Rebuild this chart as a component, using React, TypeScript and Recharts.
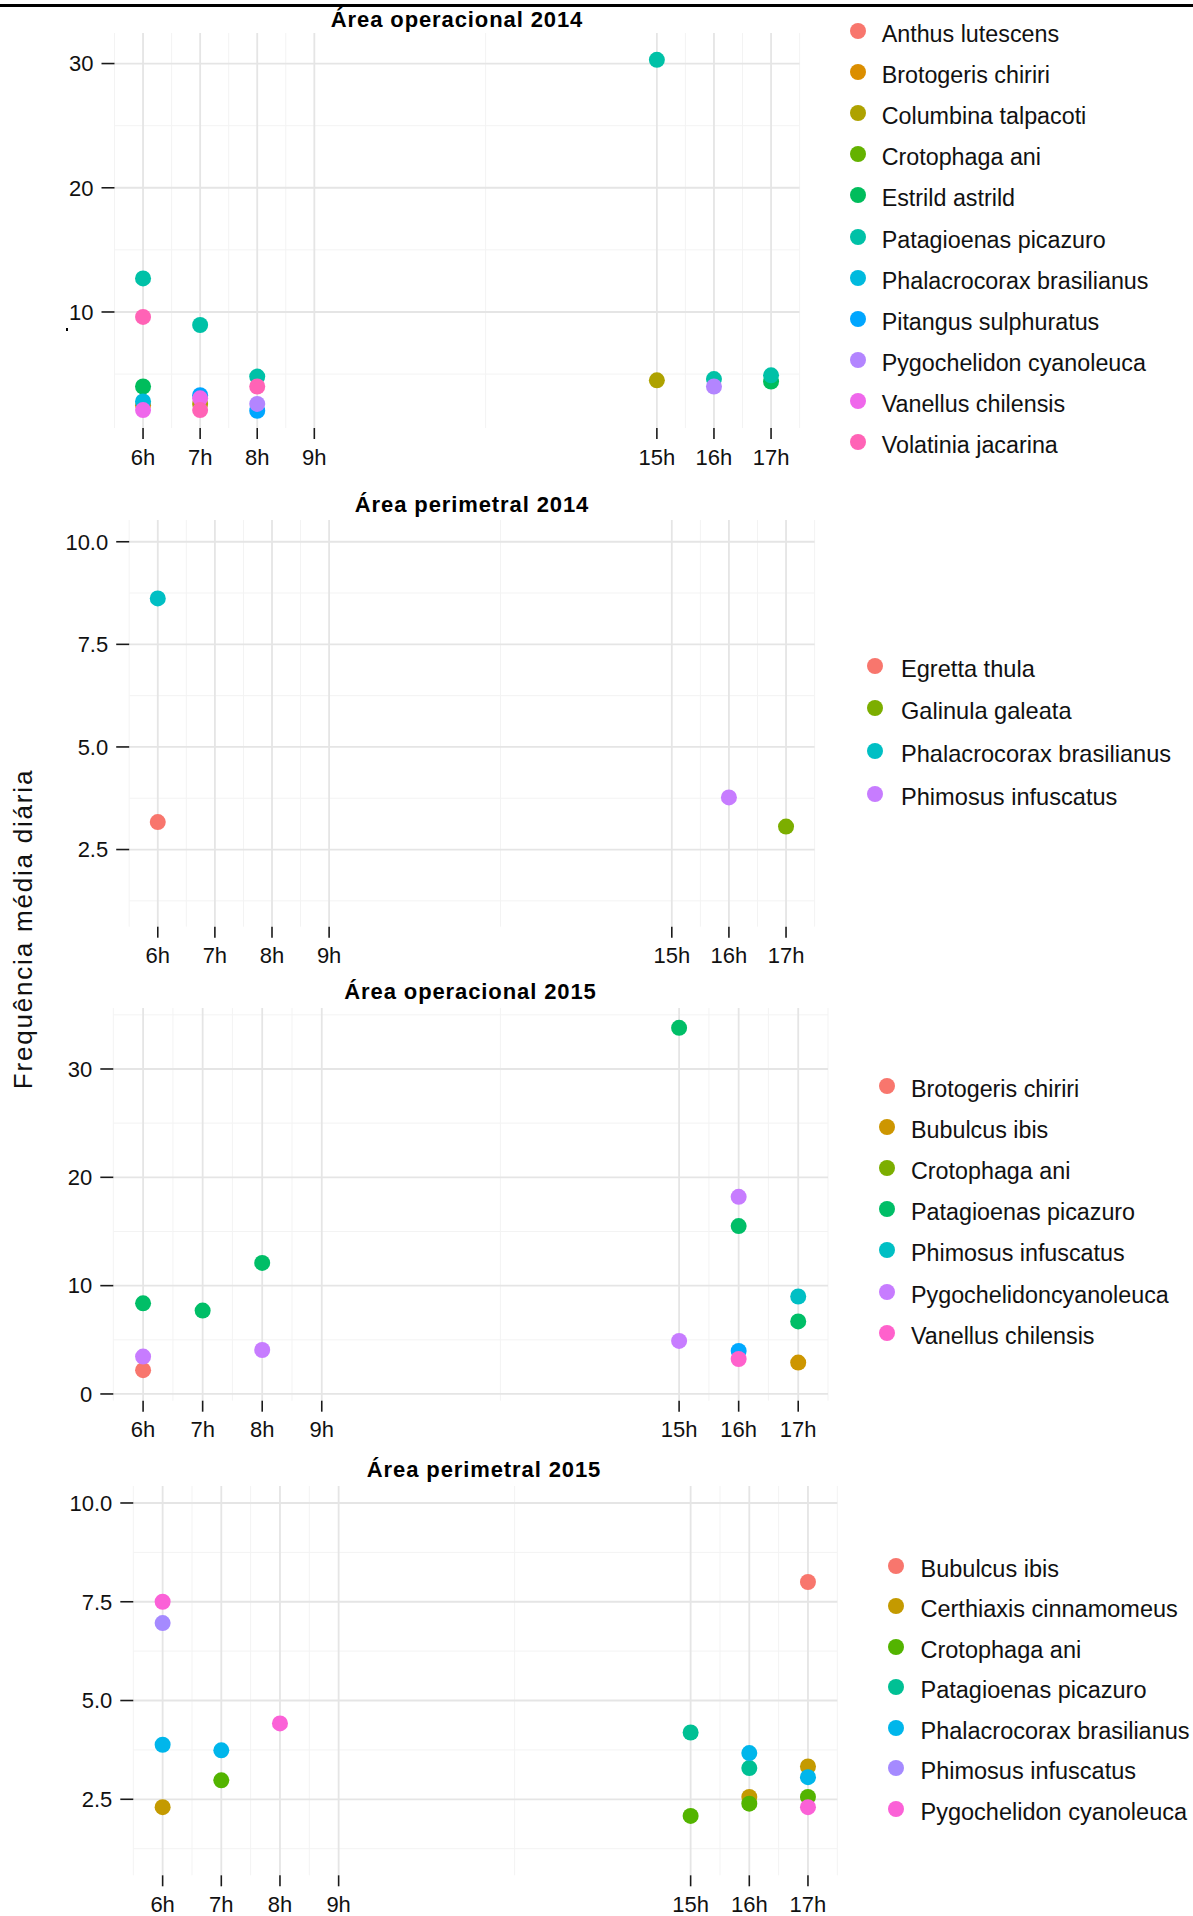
import React from "react";
import { ScatterChart, Scatter, XAxis, YAxis, CartesianGrid } from "recharts";

const FONT = '"Liberation Sans", Arial, sans-serif';
const W = 1193;

const hours = [6, 7, 8, 9, 15, 16, 17];
const minorHours = [5.5, 6.5, 7.5, 8.5, 12, 15.5, 16.5, 17.5];

// Área operacional 2014  — obs: [species index, hour, mean daily frequency]
const op14Species = [
  "Anthus lutescens",
  "Brotogeris chiriri",
  "Columbina talpacoti",
  "Crotophaga ani",
  "Estrild astrild",
  "Patagioenas picazuro",
  "Phalacrocorax brasilianus",
  "Pitangus sulphuratus",
  "Pygochelidon cyanoleuca",
  "Vanellus chilensis",
  "Volatinia jacarina",
];
const op14Colors = [
  "#F8766D", "#DB8E00", "#AEA200", "#64B200", "#00BD5C", "#00C1A7",
  "#00BADE", "#00A6FF", "#B385FF", "#EF67EB", "#FF63B6",
];
const op14Obs = [
  [1, 6, 2.5], [4, 6, 4.0], [5, 6, 12.7], [6, 6, 2.8], [9, 6, 2.1], [10, 6, 9.6],
  [2, 7, 2.6], [5, 7, 8.95], [7, 7, 3.3], [9, 7, 3.05], [10, 7, 2.1],
  [5, 8, 4.8], [7, 8, 2.05], [8, 8, 2.6], [10, 8, 4.0],
  [2, 15, 4.5], [5, 15, 30.3],
  [5, 16, 4.6], [8, 16, 4.0],
  [4, 17, 4.4], [5, 17, 4.9],
];

// Área perimetral 2014
const per14Species = [
  "Egretta thula",
  "Galinula galeata",
  "Phalacrocorax brasilianus",
  "Phimosus infuscatus",
];
const per14Colors = ["#F8766D", "#7CAE00", "#00BFC4", "#C77CFF"];
const per14Obs = [
  [0, 6, 3.17], [2, 6, 8.62], [3, 16, 3.77], [1, 17, 3.06],
];

// Área operacional 2015 (index 5 is not listed in the legend)
const op15Species = [
  "Brotogeris chiriri",
  "Bubulcus ibis",
  "Crotophaga ani",
  "Patagioenas picazuro",
  "Phimosus infuscatus",
  "Pygochelidon cyanoleuca",
  "Pygochelidoncyanoleuca",
  "Vanellus chilensis",
];
const op15Colors = [
  "#F8766D", "#CD9600", "#7CAE00", "#00BE67", "#00BFC4", "#00A9FF", "#C77CFF", "#FF61CC",
];
const op15Hidden = [5];
const op15Obs = [
  [0, 6, 2.2], [3, 6, 8.37], [6, 6, 3.45],
  [3, 7, 7.7],
  [3, 8, 12.1], [6, 8, 4.06],
  [3, 15, 33.8], [6, 15, 4.9],
  [3, 16, 15.5], [5, 16, 3.97], [6, 16, 18.2], [7, 16, 3.23],
  [1, 17, 2.9], [3, 17, 6.7], [4, 17, 9.0],
];

// Área perimetral 2015
const per15Species = [
  "Bubulcus ibis",
  "Certhiaxis cinnamomeus",
  "Crotophaga ani",
  "Patagioenas picazuro",
  "Phalacrocorax brasilianus",
  "Phimosus infuscatus",
  "Pygochelidon cyanoleuca",
];
const per15Colors = ["#F8766D", "#C49A00", "#53B400", "#00C094", "#00B6EB", "#A58AFF", "#FB61D7"];
const per15Obs = [
  [1, 6, 2.3], [4, 6, 3.88], [5, 6, 6.96], [6, 6, 7.5],
  [2, 7, 2.98], [4, 7, 3.74],
  [6, 8, 4.42],
  [2, 15, 2.08], [3, 15, 4.19],
  [1, 16, 2.56], [2, 16, 2.39], [3, 16, 3.29], [4, 16, 3.67],
  [0, 17, 8.0], [1, 17, 3.33], [2, 17, 2.56], [4, 17, 3.06], [6, 17, 2.3],
];

const intTicks = [10, 20, 30];
const intTicks0 = [0, 10, 20, 30];
const halfTicks = [2.5, 5, 7.5, 10];

type Box = { left: number; right: number; top: number; bottom: number };
type Leg = { dotX: number; textX: number; y0: number; gap: number; font: number };

type PanelProps = {
  title: string;
  titleX: number;
  titleY: number;
  species: string[];
  colors: string[];
  obs: number[][];
  hidden?: number[];
  yTicks: number[];
  yMinor: number[];
  yDomain: [number, number];
  decimals: number;
  box: Box;
  legend: Leg;
};

function Panel(p: PanelProps) {
  const chartTop = p.box.top - 6;
  const height = p.box.bottom - chartTop + 44;
  const series = p.species.map((name, i) => ({
    name,
    color: p.colors[i],
    hidden: (p.hidden || []).includes(i),
    data: p.obs.filter((o) => o[0] === i).map((o) => ({ hour: o[1], freq: o[2] })),
  }));
  const tickStyle = { fill: "#111", fontSize: 22, fontFamily: FONT };
  const shown = series.filter((s) => !s.hidden);
  return (
    <>
      <div style={{ position: "absolute", left: 0, top: chartTop, width: W, height }}>
        <ScatterChart
          width={W}
          height={height}
          margin={{ top: 6, right: W - p.box.right, bottom: 0, left: p.box.left - 70 }}
        >
          <CartesianGrid
            stroke="#F3F3F3"
            strokeWidth={1}
            horizontalValues={p.yMinor}
            verticalValues={minorHours}
            syncWithTicks
          />
          <CartesianGrid stroke="#E5E5E5" strokeWidth={1.8} syncWithTicks />
          <XAxis
            type="number"
            dataKey="hour"
            domain={[5.5, 17.5]}
            allowDataOverflow
            ticks={hours}
            interval={0}
            tickFormatter={(h: number) => `${h}h`}
            axisLine={false}
            tickLine={{ stroke: "#1a1a1a", strokeWidth: 1.6 }}
            tickSize={11}
            tickMargin={10}
            height={44}
            tick={tickStyle}
          />
          <YAxis
            type="number"
            dataKey="freq"
            domain={p.yDomain}
            allowDataOverflow
            ticks={p.yTicks}
            interval={0}
            tickFormatter={(v: number) => v.toFixed(p.decimals)}
            axisLine={false}
            tickLine={{ stroke: "#1a1a1a", strokeWidth: 1.6 }}
            tickSize={13}
            tickMargin={8}
            width={70}
            tick={tickStyle}
          />
          {series.map((s) => (
            <Scatter
              key={s.name}
              name={s.name}
              data={s.data}
              fill={s.color}
              isAnimationActive={false}
              legendType={s.hidden ? "none" : "circle"}
              shape={(props: any) => <circle cx={props.cx} cy={props.cy} r={8} fill={s.color} />}
            />
          ))}
        </ScatterChart>
      </div>
      <div
        style={{
          position: "absolute",
          left: p.titleX - 300,
          top: p.titleY - 15,
          width: 600,
          height: 30,
          lineHeight: "30px",
          textAlign: "center",
          fontFamily: FONT,
          fontWeight: "bold",
          fontSize: 22,
          letterSpacing: 0.9,
          color: "#000",
          whiteSpace: "nowrap",
        }}
      >
        {p.title}
      </div>
      {shown.map((s, i) => {
        const cy = p.legend.y0 + i * p.legend.gap;
        return (
          <React.Fragment key={s.name}>
            <div
              style={{
                position: "absolute",
                left: p.legend.dotX - 8,
                top: cy - 3 - 8,
                width: 16,
                height: 16,
                borderRadius: 8,
                background: s.color,
              }}
            />
            <div
              style={{
                position: "absolute",
                left: p.legend.textX,
                top: cy - 20,
                height: 40,
                lineHeight: "40px",
                fontFamily: FONT,
                fontSize: p.legend.font,
                color: "#111",
                whiteSpace: "nowrap",
              }}
            >
              {s.name}
            </div>
          </React.Fragment>
        );
      })}
    </>
  );
}

export default function App() {
  return (
    <div
      style={{
        position: "absolute",
        left: 0,
        top: 0,
        width: W,
        height: 1916,
        overflow: "hidden",
        background: "#fff",
      }}
    >
      <div style={{ position: "absolute", left: 0, top: 4, width: W, height: 3, background: "#000" }} />
      <Panel
        title="Área operacional 2014"
        titleX={457}
        titleY={20}
        species={op14Species}
        colors={op14Colors}
        obs={op14Obs}
        yTicks={intTicks}
        yMinor={[5, 15, 25]}
        yDomain={[0.66, 32.46]}
        decimals={0}
        box={{ left: 114.5, right: 799.6, top: 33, bottom: 428 }}
        legend={{ dotX: 857.7, textX: 881.7, y0: 33.7, gap: 41.17, font: 23.3 }}
      />
      <Panel
        title="Área perimetral 2014"
        titleX={472}
        titleY={505}
        species={per14Species}
        colors={per14Colors}
        obs={per14Obs}
        yTicks={halfTicks}
        yMinor={[1.25, 3.75, 6.25, 8.75]}
        yDomain={[0.62, 10.53]}
        decimals={1}
        box={{ left: 129.2, right: 814.6, top: 520, bottom: 926.7 }}
        legend={{ dotX: 875.3, textX: 901, y0: 668.7, gap: 42.77, font: 23.6 }}
      />
      <Panel
        title="Área operacional 2015"
        titleX={470.5}
        titleY={992}
        species={op15Species}
        colors={op15Colors}
        obs={op15Obs}
        hidden={op15Hidden}
        yTicks={intTicks0}
        yMinor={[5, 15, 25, 35]}
        yDomain={[-0.62, 35.63]}
        decimals={0}
        box={{ left: 113.3, right: 828, top: 1008, bottom: 1400.7 }}
        legend={{ dotX: 886.7, textX: 911, y0: 1089, gap: 41.1, font: 23.3 }}
      />
      <Panel
        title="Área perimetral 2015"
        titleX={484}
        titleY={1470}
        species={per15Species}
        colors={per15Colors}
        obs={per15Obs}
        yTicks={halfTicks}
        yMinor={[1.25, 3.75, 6.25, 8.75]}
        yDomain={[0.576, 10.43]}
        decimals={1}
        box={{ left: 133.3, right: 837.3, top: 1485.7, bottom: 1875 }}
        legend={{ dotX: 896, textX: 920.5, y0: 1568.5, gap: 40.53, font: 23.5 }}
      />
      <svg
        width={W}
        height={1916}
        style={{ position: "absolute", left: 0, top: 0, pointerEvents: "none" }}
      >
        <text
          transform="translate(32,929) rotate(-90)"
          textAnchor="middle"
          fontFamily={FONT}
          fontSize={26}
          letterSpacing={1.8}
          fill="#111"
        >
          Frequência média diária
        </text>
        <rect x={66} y={328} width={2} height={3} fill="#000" />
      </svg>
    </div>
  );
}
